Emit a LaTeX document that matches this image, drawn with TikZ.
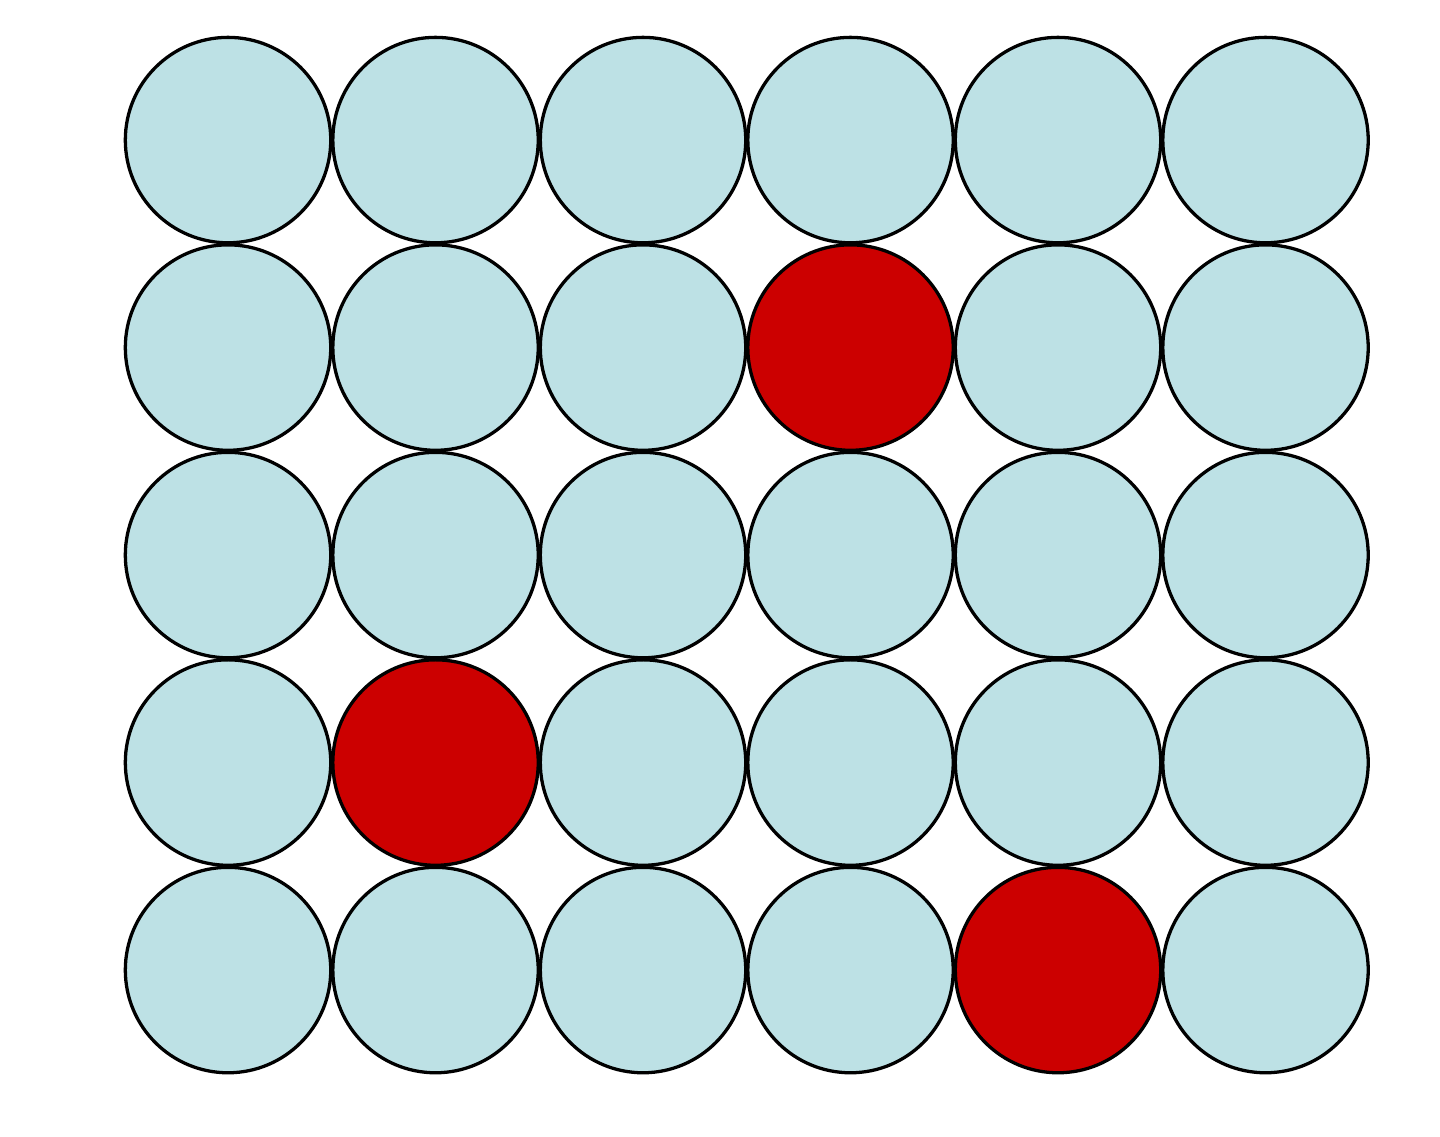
\documentclass[tikz,border=0pt]{standalone}
\usepackage{tikz}

\definecolor{cellblue}{RGB}{189,225,229}
\definecolor{cellred}{RGB}{204,0,0}

\begin{document}
\begin{tikzpicture}
  \tikzstyle{every node}=[circle,draw=black,line width=0.45pt,minimum size=0.99cm,inner sep=0pt,fill=cellblue]
  \tikzstyle{hit}=[fill=cellred]
  \useasboundingbox (0,0) rectangle (6.94,5.475);
  \matrix [column sep={1cm,between origins},row sep={1cm,between origins},draw=none,fill=none,matrix anchor=center] at (3.599,2.8) {
    \node (a1) {}; & \node (a2) {}; & \node (a3) {}; & \node (a4) {}; & \node (a5) {}; & \node (a6) {}; \\
    \node (b1) {}; & \node (b2) {}; & \node (b3) {}; & \node (b4) [hit] {}; & \node (b5) {}; & \node (b6) {}; \\
    \node (c1) {}; & \node (c2) {}; & \node (c3) {}; & \node (c4) {}; & \node (c5) {}; & \node (c6) {}; \\
    \node (d1) {}; & \node (d2) [hit] {}; & \node (d3) {}; & \node (d4) {}; & \node (d5) {}; & \node (d6) {}; \\
    \node (e1) {}; & \node (e2) {}; & \node (e3) {}; & \node (e4) {}; & \node (e5) [hit] {}; & \node (e6) {}; \\
  };
\end{tikzpicture}
\end{document}
